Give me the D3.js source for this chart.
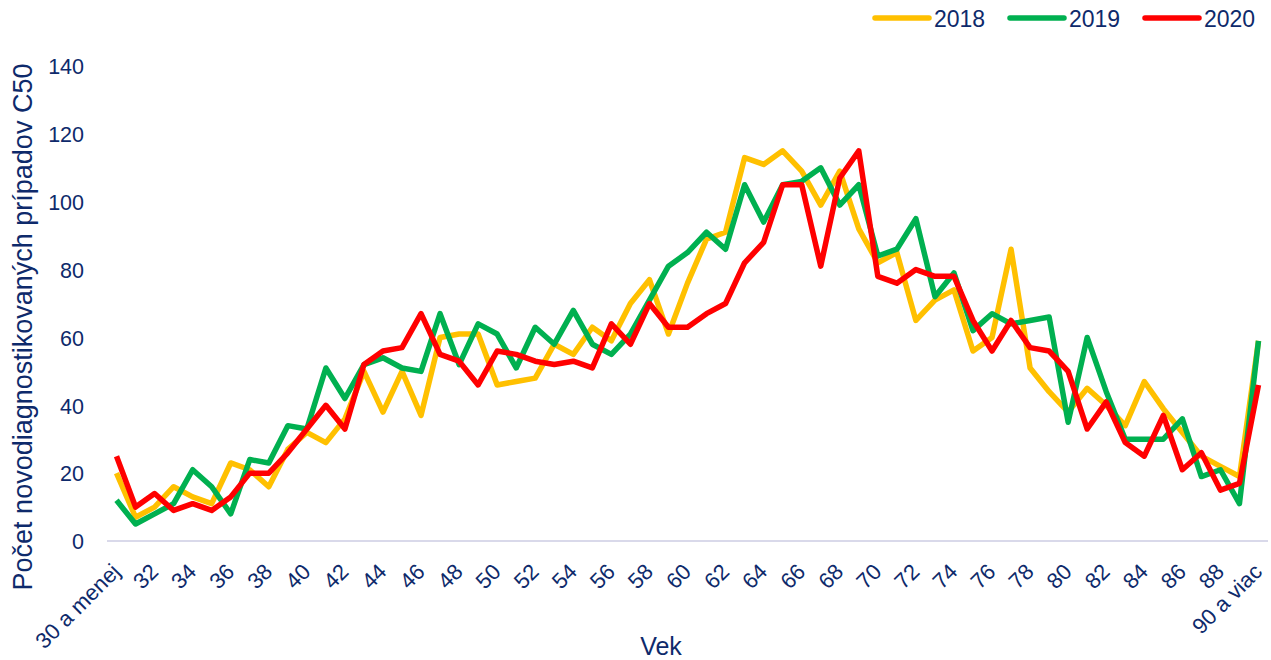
<!DOCTYPE html>
<html><head><meta charset="utf-8">
<script src="https://cdn.jsdelivr.net/npm/d3@7"></script>
<style>body{margin:0;background:#fff;}svg{display:block;font-family:"Liberation Sans",Arial,sans-serif;}</style>
</head><body>
<svg id="c" width="1271" height="660"></svg>
<script>
const categories = ["30 a menej"].concat(d3.range(31, 90).map(String)).concat(["90 a viac"]);
const tickLabels = categories.filter((c, i) => i % 2 === 0);
const yTicks = [0, 20, 40, 60, 80, 100, 120, 140];
const seriesNames = ["2018", "2019", "2020"];
const colors = ["#FFC000", "#00B050", "#FF0000"];
const v2018 = [20,7,10,16,13,11,23,21,16,27,32,29,36,50,38,50,37,60,61,61,46,47,48,58,55,63,59,70,77,61,76,89,91,113,111,115,109,99,109,92,82,85,65,71,74,56,60,86,51,44,38,45,40,34,47,39,32,25,22,19,59];
const v2019 = [12,5,8,11,21,16,8,24,23,34,33,51,42,52,54,51,50,67,52,64,61,51,63,58,68,58,55,61,71,81,85,91,86,105,94,105,106,110,99,105,84,86,95,72,79,62,67,64,65,66,35,60,44,30,30,30,36,19,21,11,59];
const v2020 = [25,10,14,9,11,9,13,20,20,26,33,40,33,52,56,57,67,55,53,46,56,55,53,52,53,51,64,58,70,63,63,67,70,82,88,105,105,81,107,115,78,76,80,78,78,65,56,65,57,56,50,33,41,29,25,37,21,26,15,17,46];
const series = [v2018, v2019, v2020];

const svg = d3.select("#c");
const txt = "#0E2A6B";
const x = d3.scaleBand().domain(categories).range([107, 1268]);
const y = d3.scaleLinear().domain([0, 140]).range([541, 66]);
const cx = c => x(c) + x.bandwidth() / 2;

// baseline
svg.append("line").attr("x1", 107).attr("x2", 1268).attr("y1", y(0)).attr("y2", y(0))
  .attr("stroke", "#D9D9EA").attr("stroke-width", 2);

// y axis labels
const ya = svg.append("g").attr("transform", "translate(84,0)")
  .call(d3.axisLeft(y).tickValues(yTicks).tickSize(0).tickPadding(0));
ya.select(".domain").remove();
ya.selectAll("text").attr("fill", txt).style("font-size", "21.5px").attr("dy", "0.36em");

// x axis labels
const xa = svg.append("g").attr("transform", "translate(0,541)")
  .call(d3.axisBottom(x).tickValues(tickLabels).tickSize(0).tickPadding(0));
xa.select(".domain").remove();
xa.selectAll("text").attr("fill", txt).style("font-size", "22px")
  .attr("text-anchor", "end").attr("dy", null).attr("y", 0)
  .attr("transform", "translate(5,32) rotate(-45)");

// lines
const line = d3.line().x((d, i) => cx(categories[i])).y(d => y(d));
series.forEach((s, k) => {
  svg.append("path").datum(s).attr("d", line).attr("fill", "none")
    .attr("stroke", colors[k]).attr("stroke-width", 5.5).attr("stroke-linejoin", "round");
});

// axis titles
svg.append("text").attr("x", 661).attr("y", 655).attr("text-anchor", "middle")
  .attr("fill", txt).style("font-size", "25px").text("Vek");
svg.append("text").attr("transform", "translate(32,327) rotate(-90)").attr("text-anchor", "middle")
  .attr("fill", txt).style("font-size", "27px").text("Počet novodiagnostikovaných prípadov C50");

// legend
const lx = [875, 1010, 1145];
seriesNames.forEach((n, k) => {
  const g = svg.append("g").attr("transform", `translate(${lx[k]},18)`);
  g.append("line").attr("x1", 0).attr("x2", 54).attr("stroke", colors[k]).attr("stroke-width", 5.5).attr("stroke-linecap", "round");
  g.append("text").attr("x", 59).attr("y", 9).attr("fill", txt).style("font-size", "23px").text(n);
});
</script>
</body></html>
